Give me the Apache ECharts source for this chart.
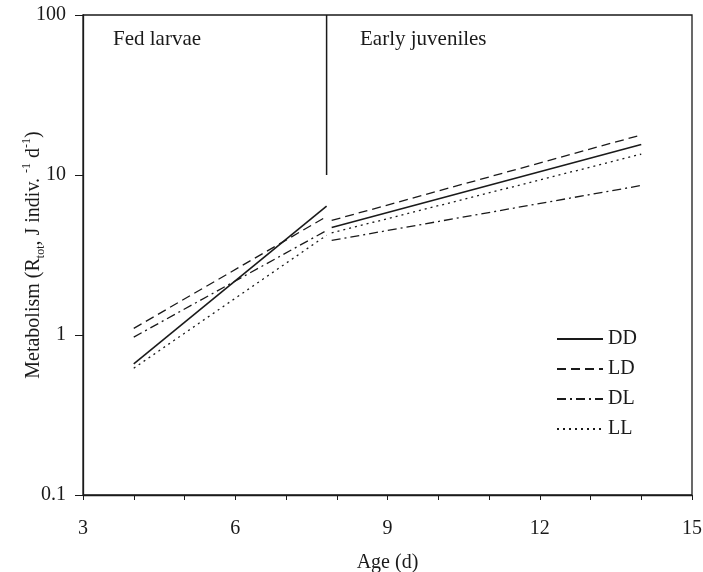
<!DOCTYPE html>
<html>
<head>
<meta charset="utf-8">
<script src="https://cdn.jsdelivr.net/npm/echarts@6/dist/echarts.min.js"></script>
<style>
  html, body { margin: 0; padding: 0; background: #fff; }
  #container { width: 703px; height: 572px; }
</style>
</head>
<body>
<div id="container"></div>
<script>
// age (d) for the two phases
var ageFed = [4, 7.8];
var ageJuv = [7.9, 14];

// metabolism, J indiv-1 d-1 (fed larvae / early juveniles)
var fedDD = [0.66, 6.4];
var fedLD = [1.1, 5.5];
var fedDL = [0.97, 4.5];
var fedLL = [0.62, 4.2];

var juvDD = [4.7, 15.5];
var juvLD = [5.2, 17.8];
var juvDL = [3.9, 8.6];
var juvLL = [4.35, 13.5];

// phase divider
var dividerAge = [7.8, 7.8];
var dividerVal = [10, 100];

var groups = ['DD', 'LD', 'DL', 'LL'];
var yTicks = [0.1, 1, 10, 100];

var styles = {
    DD: { width: 1.6, type: 'solid' },
    LD: { width: 1.3, type: [9, 5] },
    DL: { width: 1.3, type: [9, 4, 2, 4] },
    LL: { width: 1.3, type: [2, 4] }
};

var fedVals = { DD: fedDD, LD: fedLD, DL: fedDL, LL: fedLL };
var juvVals = { DD: juvDD, LD: juvLD, DL: juvDL, LL: juvLL };

function pairs(xs, ys) {
    return xs.map(function (x, i) { return [x, ys[i]]; });
}

var serif = 'Liberation Serif';
var ink = '#1a1a1a';

var series = [];
groups.forEach(function (g) {
    [fedVals[g], juvVals[g]].forEach(function (vals, k) {
        series.push({
            name: g,
            type: 'line',
            symbol: 'none',
            silent: true,
            data: pairs(k === 0 ? ageFed : ageJuv, vals),
            lineStyle: { color: ink, width: styles[g].width, type: styles[g].type },
            itemStyle: { color: ink }
        });
    });
});
series.push({
    name: 'divider',
    type: 'line',
    symbol: 'none',
    silent: true,
    data: pairs(dividerAge, dividerVal),
    lineStyle: { color: ink, width: 1.5 }
});

var myChart = echarts.init(document.getElementById('container'));
myChart.setOption({
    animation: false,
    backgroundColor: '#fff',
    grid: {
        left: 83, right: 11, top: 15, bottom: 77,
        outerBoundsMode: 'none',
        containLabel: false,
        show: true, borderColor: ink, borderWidth: 1.3
    },
    legend: {
        data: groups,
        orient: 'vertical',
        left: 551,
        top: 324,
        itemWidth: 46,
        itemHeight: 14,
        itemGap: 10,
        itemStyle: { color: 'transparent', borderColor: 'transparent', borderWidth: 0, opacity: 0 },
        textStyle: { fontFamily: serif, fontSize: 20, color: ink, padding: [0, 0, 0, 0] },
        selectedMode: false
    },
    xAxis: {
        type: 'value',
        min: 3,
        max: 15,
        interval: 1,
        name: 'Age (d)',
        nameLocation: 'middle',
        nameGap: 58,
        nameTextStyle: { fontFamily: serif, fontSize: 20, color: ink },
        axisLine: { lineStyle: { color: ink, width: 1.3 } },
        axisTick: { show: true, length: 5, lineStyle: { color: ink } },
        axisLabel: {
            margin: 24,
            fontFamily: serif, fontSize: 20, color: ink,
            formatter: function (v) { return v % 3 === 0 ? String(v) : ''; }
        },
        splitLine: { show: false }
    },
    yAxis: {
        type: 'log',
        logBase: 10,
        min: yTicks[0],
        max: yTicks[yTicks.length - 1],
        name: 'Metabolism (R{sub|tot}, J indiv. {sup|-1} d{sup|-1})',
        nameLocation: 'middle',
        nameRotate: 90,
        nameGap: 36,
        nameMoveOverlap: false,
        nameTextStyle: {
            fontFamily: serif, fontSize: 20, color: ink, lineHeight: 26,
            rich: {
                sub: { fontFamily: serif, fontSize: 12, color: ink, verticalAlign: 'bottom', lineHeight: 26 },
                sup: { fontFamily: serif, fontSize: 12, color: ink, verticalAlign: 'top', lineHeight: 26 }
            }
        },
        axisLine: { show: true, lineStyle: { color: ink, width: 1.3 } },
        axisTick: { show: true, length: 8, lineStyle: { color: ink } },
        minorTick: { show: false },
        axisLabel: {
            margin: 17,
            fontFamily: serif, fontSize: 20, color: ink,
            formatter: function (v) { return String(+v.toPrecision(3)); }
        },
        splitLine: { show: false }
    },
    graphic: [
        { type: 'text', left: 113, top: 29, style: { text: 'Fed larvae', font: '21px "Liberation Serif"', fill: ink } },
        { type: 'text', left: 360, top: 29, style: { text: 'Early juveniles', font: '21px "Liberation Serif"', fill: ink } }
    ],
    series: series
});
</script>
</body>
</html>
